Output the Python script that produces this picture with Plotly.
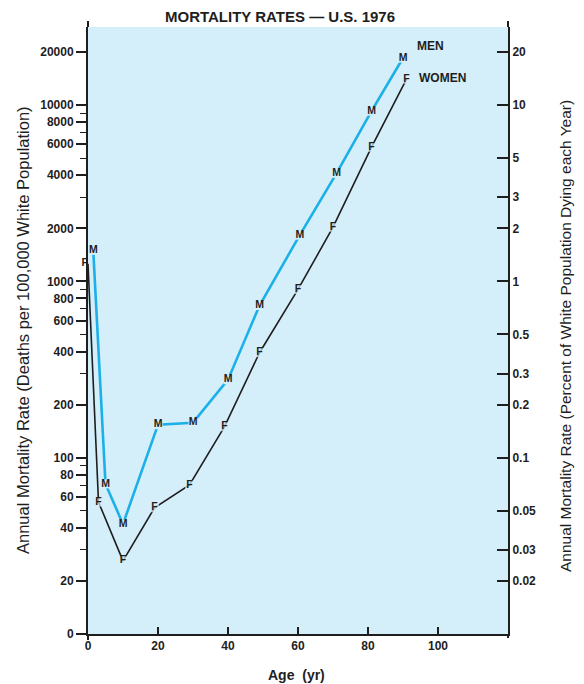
import plotly.graph_objects as go

# ---- data ----
ages_men = [1.5, 5, 10, 20, 30, 40, 49, 60.5, 71, 81, 90]
rate_men = [1500, 71, 42, 154, 158, 277, 730, 1830, 4100, 9250, 18500]
ages_women = [0, 3, 10, 19, 29, 39, 49, 60, 70, 81, 91]
rate_women = [1260, 56, 26, 52, 70, 150, 394, 900, 2030, 5770, 14040]

x_ticks = [0, 20, 40, 60, 80, 100]
left_tickvals = [10, 20, 40, 60, 80, 100, 200, 400, 600, 800, 1000, 2000, 4000, 6000, 8000, 10000, 20000]
left_ticktext = ["0", "20", "40", "60", "80", "100", "200", "400", "600", "800", "1000", "2000",
                 "4000", "6000", "8000", "10000", "20000"]
left_minor = [30, 50, 70, 90, 300, 500, 700, 900, 3000, 5000, 7000, 9000]
right_tickvals = [0.02, 0.03, 0.05, 0.1, 0.2, 0.3, 0.5, 1, 2, 3, 5, 10, 20]
right_ticktext = ["0.02", "0.03", "0.05", "0.1", "0.2", "0.3", "0.5", "1", "2", "3", "5", "10", "20"]

BG = "#d4eefa"
BLUE = "#1cb0e8"
INK = "#1e1e1e"
FONT = "Liberation Sans"

# page has an 8px body margin; size the figure so the plot lands where the reference has it
W, H = 576, 676
L, R, T, B = 80, 76, 19, 50
PW, PH = W - L - R, H - T - B

fig = go.Figure()

fig.add_trace(go.Scatter(
    x=ages_men, y=rate_men, mode="lines+markers+text", text=["M"] * len(ages_men),
    textposition="middle center", textfont=dict(family=FONT, size=10.5, color=INK, weight="bold"),
    line=dict(color=BLUE, width=2.6),
    marker=dict(symbol="square", size=9, color=BG, line=dict(width=0)),
    cliponaxis=False, showlegend=False, hoverinfo="skip"))

f_pos = ["middle left"] + ["middle center"] * (len(ages_women) - 1)
f_size = [0] + [9] * (len(ages_women) - 1)
fig.add_trace(go.Scatter(
    x=ages_women, y=rate_women, mode="lines+markers+text", text=["F"] * len(ages_women),
    textposition=f_pos, textfont=dict(family=FONT, size=10.5, color=INK, weight="bold"),
    line=dict(color=INK, width=1.6),
    marker=dict(symbol="square", size=f_size, color=BG, line=dict(width=0)),
    cliponaxis=False, showlegend=False, hoverinfo="skip"))

# invisible trace tying the percent axis to the same data (per 100,000 -> percent)
fig.add_trace(go.Scatter(
    x=ages_men, y=[r / 1000 for r in rate_men], yaxis="y2", mode="none",
    showlegend=False, hoverinfo="skip"))

tickfont = dict(family=FONT, size=12, color=INK, weight="bold")


def px_x(page_x):
    return (page_x - 8 - L) / PW


def px_y(page_y):
    return (H - B - (page_y - 8)) / PH


fig.update_layout(
    width=W, height=H,
    margin=dict(l=L, r=R, t=T, b=B),
    paper_bgcolor="white", plot_bgcolor=BG,
    font=dict(family=FONT, color=INK),
    title=dict(text="MORTALITY RATES — U.S. 1976", x=(280 - 8) / W, xanchor="center",
               y=1 - (17 - 8) / H, yanchor="middle", yref="container", xref="container",
               font=dict(family=FONT, size=15, color=INK, weight="bold")),
    xaxis=dict(range=[0, 120], tickvals=x_ticks, ticks="inside", ticklen=7, tickwidth=2,
               tickcolor=INK, showline=True, linecolor=INK, linewidth=2, showgrid=False,
               zeroline=False, tickfont=tickfont),
    yaxis=dict(type="log", range=[1, 4.443], tickvals=left_tickvals, ticktext=left_ticktext,
               ticks="outside", ticklen=10, tickwidth=1.5, tickcolor=INK,
               minor=dict(tickvals=left_minor, ticks="outside", ticklen=6, tickwidth=1.2,
                          tickcolor=INK, showgrid=False),
               showline=True, linecolor=INK, linewidth=2, showgrid=False, zeroline=False,
               tickfont=tickfont),
    yaxis2=dict(type="log", range=[-2, 1.443], overlaying="y", side="right",
                tickvals=right_tickvals, ticktext=right_ticktext,
                ticks="inside", ticklen=11, tickwidth=1.5, tickcolor=INK,
                showline=True, linecolor=INK, linewidth=2, showgrid=False, zeroline=False,
                tickfont=tickfont),
    shapes=[
        # axis lines run a little past the shaded area, as in the hand-drawn original
        dict(type="line", xref="paper", yref="paper", x0=0, x1=0, y0=1, y1=1 + 6 / PH,
             line=dict(color=INK, width=2)),
        dict(type="line", xref="paper", yref="paper", x0=1, x1=1, y0=1, y1=1 + 6 / PH,
             line=dict(color=INK, width=2)),
        dict(type="line", xref="paper", yref="paper", x0=0, x1=0, y0=0, y1=-6 / PH,
             line=dict(color=INK, width=2)),
        dict(type="line", xref="paper", yref="paper", x0=1, x1=1, y0=0, y1=-4 / PH,
             line=dict(color=INK, width=2)),
    ],
    annotations=[
        dict(text="Annual Mortality Rate (Deaths per 100,000 White Population)",
             xref="paper", yref="paper", x=px_x(23), y=px_y(330), xanchor="center",
             yanchor="middle", textangle=-90, showarrow=False,
             font=dict(family=FONT, size=16.5, color=INK)),
        dict(text="Annual Mortality Rate (Percent of White Population Dying each Year)",
             xref="paper", yref="paper", x=px_x(565), y=px_y(336), xanchor="center",
             yanchor="middle", textangle=-90, showarrow=False,
             font=dict(family=FONT, size=15.5, color=INK)),
        dict(text="Age  (yr)", xref="paper", yref="paper", x=px_x(296), y=px_y(675),
             xanchor="center", yanchor="middle", showarrow=False,
             font=dict(family=FONT, size=14, color=INK, weight="bold")),
        dict(text="MEN", x=93.5, y=4.337, xref="x", yref="y", xanchor="left",
             showarrow=False, font=dict(family=FONT, size=12, color=INK, weight="bold")),
        dict(text="WOMEN", x=94, y=4.152, xref="x", yref="y", xanchor="left",
             showarrow=False, font=dict(family=FONT, size=12, color=INK, weight="bold")),
    ],
)

fig.write_html("out.html")
